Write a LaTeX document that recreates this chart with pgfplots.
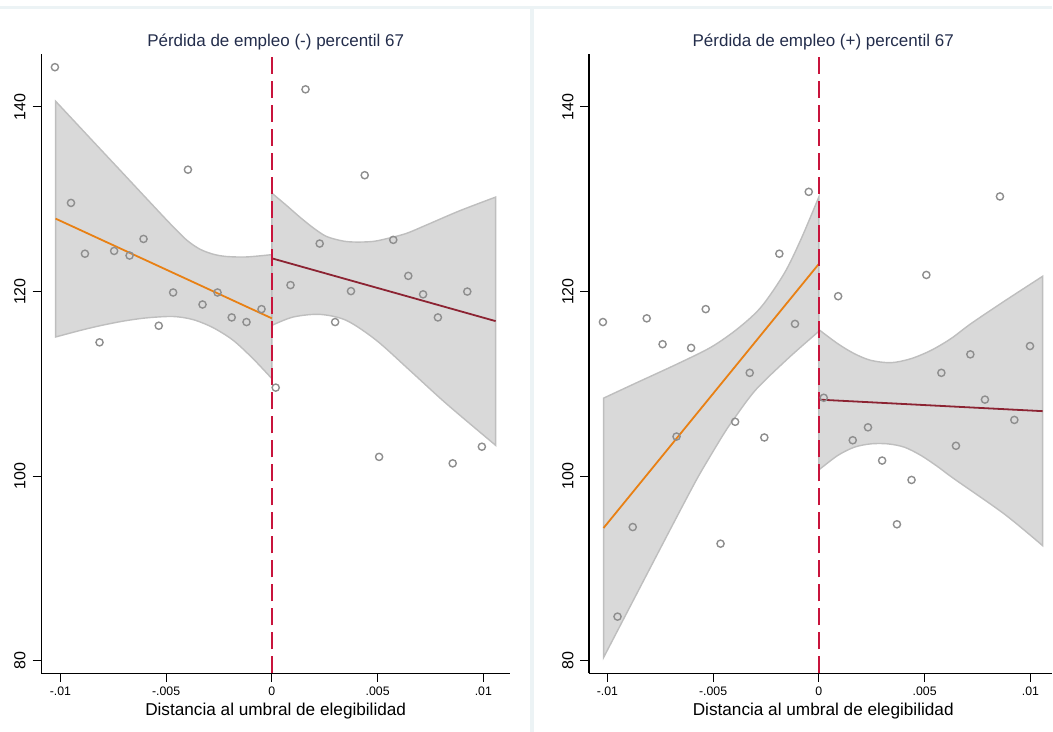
\documentclass[border=0pt]{standalone}
\usepackage{fontspec}
\setmainfont{Liberation Sans}
\usepackage{pgfplots}
\usepackage{pgfplotstable}
\pgfplotsset{compat=1.18}
\usepgfplotslibrary{fillbetween}
\definecolor{bandfill}{RGB}{217,217,217}
\definecolor{bandedge}{RGB}{190,190,190}
\definecolor{mk}{RGB}{142,142,142}
\definecolor{orangefit}{RGB}{232,128,20}
\definecolor{maroonfit}{RGB}{140,35,50}
\definecolor{cutoff}{RGB}{200,20,60}
\definecolor{titlecol}{RGB}{35,45,75}
\definecolor{sepcol}{RGB}{236,243,245}

\pgfplotstableread{
x y
-0.01026 144.3
-0.00950 129.6
-0.00884 124.1
-0.00815 114.5
-0.00746 124.4
-0.00673 123.9
-0.00607 125.7
-0.00535 116.3
-0.00467 119.9
-0.00397 133.2
-0.00328 118.6
-0.00257 119.9
-0.00190 117.2
-0.00120 116.7
-0.00049 118.1
0.00018 109.6
0.00088 120.7
0.00159 141.9
0.00226 125.2
0.00299 116.7
0.00374 120.05
0.00439 132.6
0.00507 102.1
0.00574 125.6
0.00645 121.7
0.00715 119.7
0.00785 117.2
0.00855 101.4
0.00924 120.0
0.00993 103.2
}\leftpts

\pgfplotstableread{
x y
-0.01021 116.7
-0.00952 84.8
-0.00880 94.5
-0.00814 117.1
-0.00739 114.3
-0.00673 104.3
-0.00604 113.9
-0.00535 118.1
-0.00465 92.7
-0.00396 105.9
-0.00327 111.2
-0.00258 104.2
-0.00187 124.1
-0.00113 116.5
-0.00048 130.8
0.00023 108.5
0.00091 119.5
0.00160 103.9
0.00232 105.3
0.00299 101.7
0.00369 94.8
0.00438 99.6
0.00508 121.8
0.00579 111.2
0.00648 103.3
0.00716 113.2
0.00785 108.3
0.00856 130.3
0.00924 106.1
0.00998 114.1
}\rightpts

\pgfplotsset{
  panel/.style={
    scale only axis, height=619.6pt,
    ymin=78.66, ymax=145.72,
    axis x line*=bottom, axis y line*=left,
    axis line style={black, line width=1.2pt, -},
    scaled x ticks=false,
    xtick={-0.01,-0.005,0,0.005,0.01},
    xticklabels={-.01,-.005,0,.005,.01},
    ytick={80,100,120,140}, yticklabels={80,100,120,140},
    tick align=outside, major tick length=8.5pt,
    tick style={black, line width=1.1pt},
    xticklabel style={font=\fontsize{12.3}{14}\selectfont, anchor=north},
    yticklabel style={font=\fontsize{16}{18}\selectfont, rotate=90, anchor=south},
    xticklabel shift=2pt, yticklabel shift=3.5pt,
    xlabel={Distancia al umbral de elegibilidad},
    xlabel style={font=\fontsize{17.2}{20}\selectfont, anchor=center, yshift=-38pt},
    title style={font=\fontsize{17}{20}\selectfont, text=titlecol, anchor=center, yshift=6pt},
    clip=false,
  },
  mypts/.style={only marks, mark=o, mark size=3.6pt, mark options={draw=mk, line width=1.4pt}},
  myedge/.style={draw=none, smooth, tension=0.5},
  myband/.style={fill=bandfill, draw=bandedge, line width=1.4pt},
}

\begin{document}
\begin{tikzpicture}
\path (0,0) rectangle (1053pt,732pt);
\fill[sepcol] (0,722.5pt) rectangle (1053pt,726pt);
\fill[sepcol] (530pt,0) rectangle (534pt,726pt);
\begin{axis}[panel, at={(41.2pt,58.3pt)}, anchor=south west,
  width=469.3pt, xmin=-0.01091, xmax=0.01127,
  title style={at={(rel axis cs:0.5,1)}},
  xlabel style={at={(rel axis cs:0.5,0)}},
  title={Pérdida de empleo (-) percentil 67}]
\addplot[myedge, name path=LUa] coordinates {(-0.01023,140.62) (-0.00908,137.8) (-0.00813,135.47) (-0.00703,132.78) (-0.00593,130.08) (-0.00483,127.4) (-0.00404,125.6) (-0.00341,124.6) (-0.00278,124.05) (-0.00215,123.8) (-0.00120,123.75) (0,124.0)};
\addplot[myedge, name path=LLa] coordinates {(-0.01023,115.08) (-0.00908,115.78) (-0.00813,116.3) (-0.00703,116.8) (-0.00593,117.15) (-0.00467,117.3) (-0.00372,116.96) (-0.00278,116.09) (-0.00183,114.72) (-0.00089,112.73) (0,110.57)};
\addplot[myband] fill between[of=LUa and LLa];
\addplot[myedge, name path=LUb] coordinates {(0,130.66) (0.00069,129.33) (0.00132,128.07) (0.00195,126.91) (0.00258,125.97) (0.00337,125.47) (0.00400,125.36) (0.00478,125.43) (0.00541,125.72) (0.00636,126.3) (0.00730,127.2) (0.00888,128.75) (0.01058,130.23)};
\addplot[myedge, name path=LLb] coordinates {(0,116.34) (0.00100,117.24) (0.00226,117.53) (0.00352,116.88) (0.00494,114.72) (0.00652,111.47) (0.00825,107.86) (0.01058,103.35)};
\addplot[myband] fill between[of=LUb and LLb];
\addplot[mypts] table[x=x, y=y] {\leftpts};
\addplot[orangefit, line width=1.8pt] coordinates {(-0.01023,127.9) (0,117.1)};
\addplot[maroonfit, line width=1.8pt] coordinates {(0,123.6) (0.01058,116.8)};
\addplot[cutoff, line width=2pt, dash pattern=on 17pt off 7pt] coordinates {(0,78.66) (0,145.72)};
\end{axis}
\begin{axis}[panel, at={(589.3pt,58.3pt)}, anchor=south west,
  width=463.7pt, xmin=-0.01087, xmax=0.01104,
  title style={at={(axis cs:0.000205,145.72)}},
  xlabel style={at={(axis cs:0.000205,78.66)}},
  title={Pérdida de empleo (+) percentil 67}]
\addplot[myedge, name path=RUa] coordinates {(-0.01018,108.46) (-0.00872,110.02) (-0.00667,112.19) (-0.00509,113.99) (-0.00384,115.98) (-0.00273,118.33) (-0.00163,122.0) (-0.00084,125.7) (0,130.26)};
\addplot[myedge, name path=RLa] coordinates {(-0.01018,80.37) (-0.00872,86.8) (-0.00714,93.75) (-0.00612,98.2) (-0.00557,100.5) (-0.00455,104.4) (-0.00399,106.3) (-0.00297,109.4) (-0.00139,112.9) (0,115.7)};
\addplot[myband] fill between[of=RUa and RLa];
\addplot[myedge, name path=RUb] coordinates {(0,115.88) (0.00089,114.36) (0.00168,113.27) (0.00246,112.55) (0.00341,112.30) (0.00435,112.73) (0.00530,113.63) (0.00624,114.90) (0.00719,116.53) (0.00876,118.95) (0.01058,121.66)};
\addplot[myedge, name path=RLb] coordinates {(0,100.69) (0.00089,102.25) (0.00168,103.15) (0.00246,103.51) (0.00325,103.51) (0.00404,103.15) (0.00483,102.25) (0.00561,101.05) (0.00640,99.71) (0.00876,95.92) (0.01058,92.48)};
\addplot[myband] fill between[of=RUb and RLb];
\addplot[mypts] table[x=x, y=y] {\rightpts};
\addplot[orangefit, line width=1.8pt] coordinates {(-0.01018,94.4) (0,123.0)};
\addplot[maroonfit, line width=1.8pt] coordinates {(0,108.3) (0.01058,107.05)};
\addplot[cutoff, line width=2pt, dash pattern=on 17pt off 7pt] coordinates {(0,78.66) (0,145.72)};
\end{axis}
\end{tikzpicture}
\end{document}
